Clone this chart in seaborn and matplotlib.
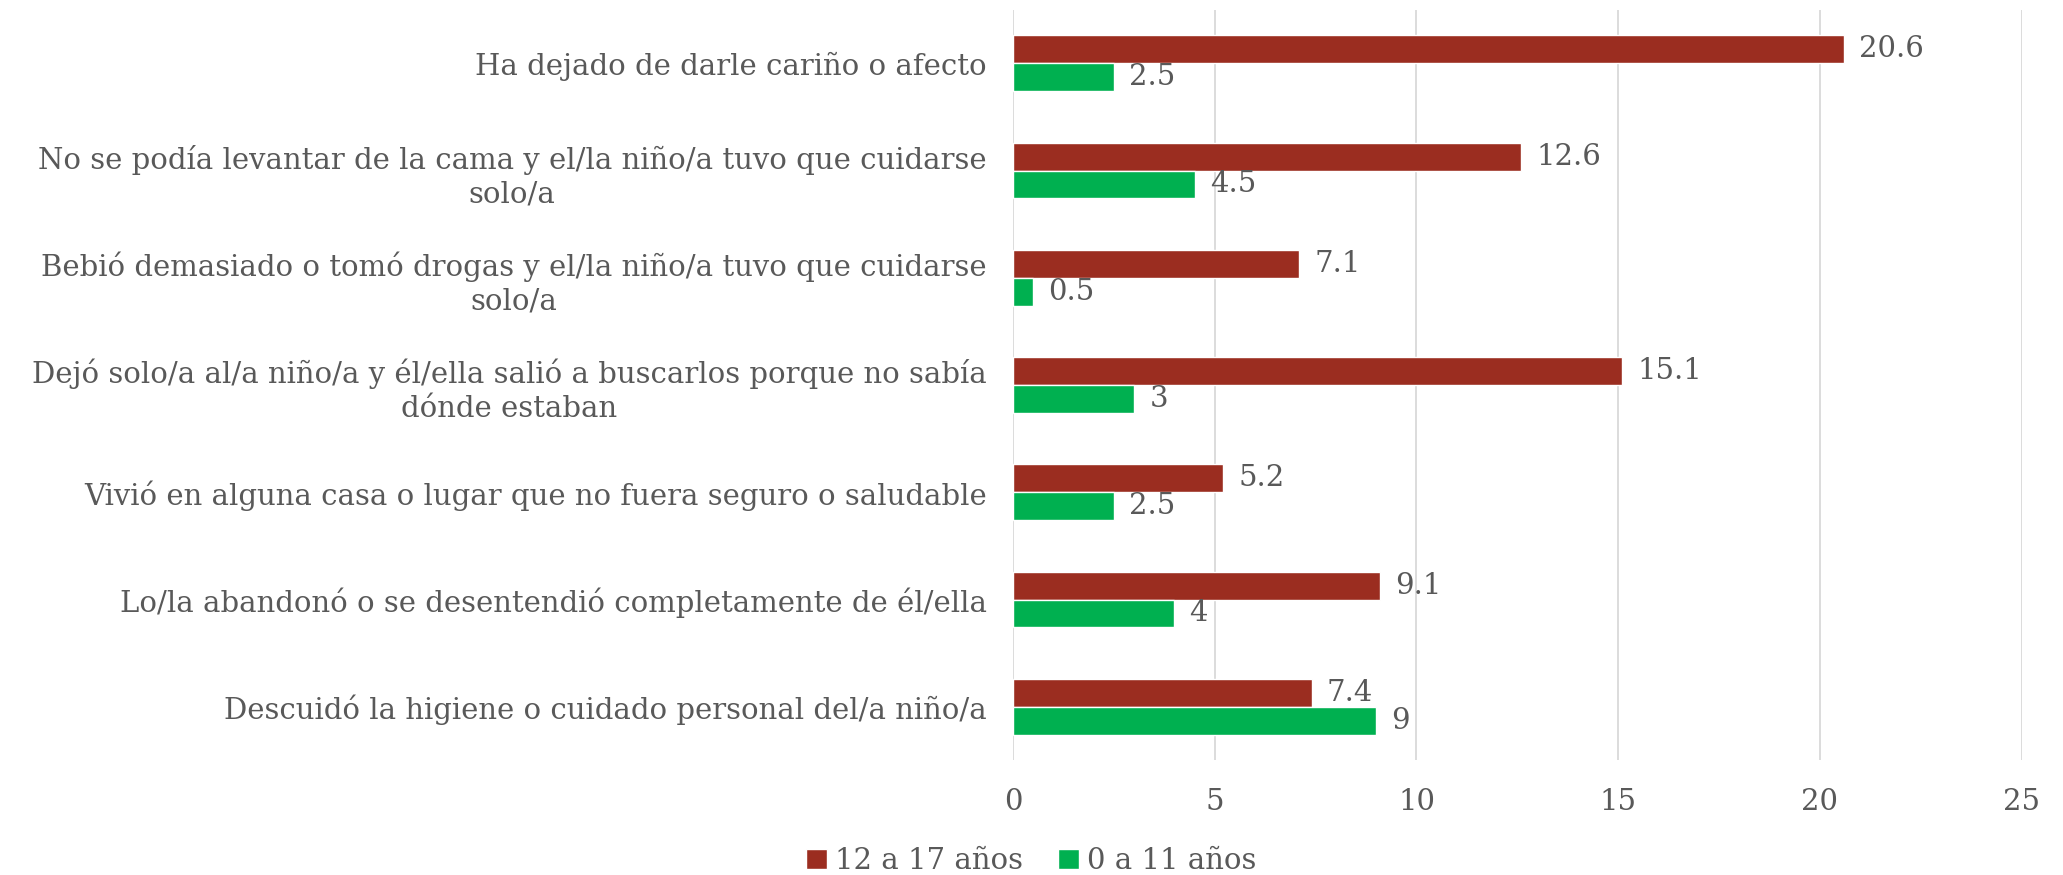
import pandas as pd
import matplotlib.pyplot as plt
import seaborn as sns

categorias = [
    "Ha dejado de darle cariño o afecto",
    "No se podía levantar de la cama y el/la niño/a tuvo que cuidarse\nsolo/a",
    "Bebió demasiado o tomó drogas y el/la niño/a tuvo que cuidarse\nsolo/a",
    "Dejó solo/a al/a niño/a y él/ella salió a buscarlos porque no sabía\ndónde estaban",
    "Vivió en alguna casa o lugar que no fuera seguro o saludable",
    "Lo/la abandonó o se desentendió completamente de él/ella",
    "Descuidó la higiene o cuidado personal del/a niño/a",
]
series = ["12 a 17 años", "0 a 11 años"]
valores_12_17 = [20.6, 12.6, 7.1, 15.1, 5.2, 9.1, 7.4]
valores_0_11 = [2.5, 4.5, 0.5, 3, 2.5, 4, 9]
xticks = [0, 5, 10, 15, 20, 25]

colores = ["#9B2D20", "#00B050"]
gris = "#595959"
fs = 21

df = pd.DataFrame({
    "categoria": categorias * 2,
    "grupo": [series[0]] * len(categorias) + [series[1]] * len(categorias),
    "valor": valores_12_17 + valores_0_11,
})

sns.set_style("white")
plt.rcParams["font.family"] = ["DejaVu Serif"]

fig = plt.figure(figsize=(20.63, 8.75), dpi=100)
ax = fig.add_axes([0.491, 0.131, 0.489, 0.858])

sns.barplot(data=df, x="valor", y="categoria", hue="grupo", orient="h",
            palette=colores, saturation=1, width=0.52, ax=ax, legend=True)

for cont in ax.containers:
    etiquetas = [f"{v:g}" for v in cont.datavalues]
    ax.bar_label(cont, labels=etiquetas, padding=11, fontsize=fs, color=gris)

ax.set_xlim(0, 25)
ax.set_xticks(xticks)
ax.set_xlabel("")
ax.set_ylabel("")
ax.grid(axis="x", color="#D9D9D9", linewidth=1.3)
ax.set_axisbelow(True)
for s in ax.spines.values():
    s.set_visible(False)
ax.tick_params(axis="x", length=0, pad=20, labelsize=fs, labelcolor=gris)
ax.tick_params(axis="y", length=0, pad=19, labelsize=fs, labelcolor=gris)
for t in ax.get_yticklabels():
    t.set_multialignment("center")
    t.set_linespacing(1.25)

handles, labels = ax.get_legend_handles_labels()
ax.legend_.remove()
fig.legend(handles, labels, loc="center", bbox_to_anchor=(0.5, 0.016),
           ncol=2, frameon=False, fontsize=fs, labelcolor=gris,
           handlelength=0.7, handleheight=0.7, handletextpad=0.3, columnspacing=1.2)

fig.savefig("out.png", dpi=100)
